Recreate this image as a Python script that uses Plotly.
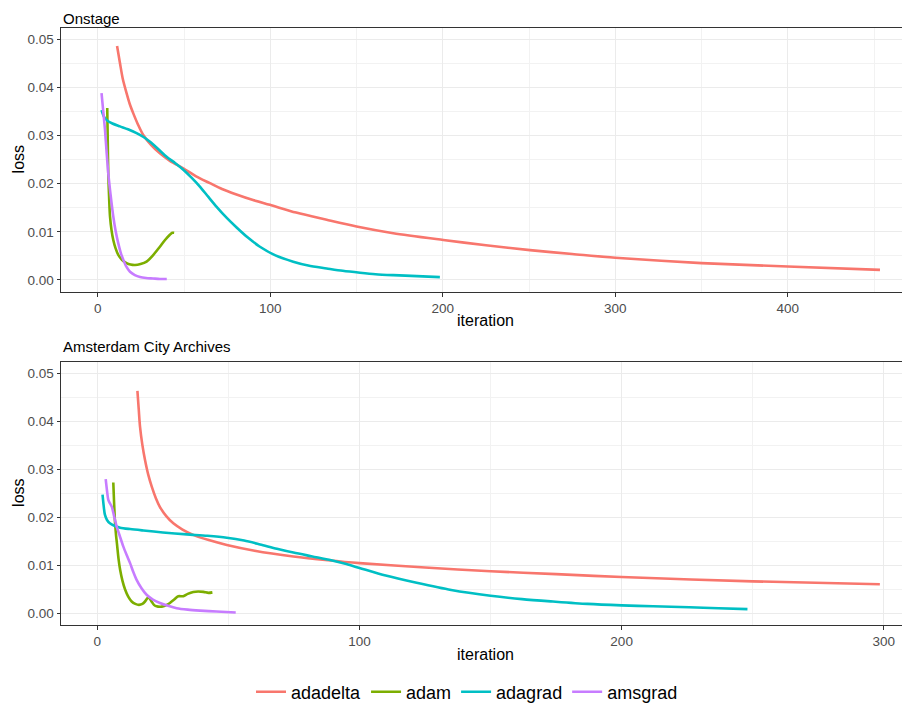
import plotly.graph_objects as go

# ---------------- data ----------------
panel_titles = ["Onstage", "Amsterdam City Archives"]
optimizers = ["adadelta", "adam", "adagrad", "amsgrad"]
colors = {"adadelta": "#F8766D", "adam": "#7CAE00", "adagrad": "#00BFC4", "amsgrad": "#C77CFF"}

# Onstage
on_adadelta_x = [11.2, 12.9, 14.5, 16.7, 18.5, 20.6, 23.3, 26.4, 31, 36, 42, 49.6, 57, 65, 72, 80, 90, 99.8, 115, 132.7, 150, 171.3, 200.3, 225, 250.5, 275, 300, 350, 400, 453.4]
on_adadelta_y = [0.0486, 0.0450, 0.0418, 0.0388, 0.0366, 0.0346, 0.0323, 0.0301, 0.0280, 0.0263, 0.0247, 0.0232, 0.0215, 0.0201, 0.0189, 0.0178, 0.0166, 0.0156, 0.0140, 0.0125, 0.0111, 0.0097, 0.0083, 0.0072, 0.0062, 0.0054, 0.0046, 0.0035, 0.0028, 0.0021]

on_adam_x = [5.5, 5.8, 6.1, 6.6, 7.1, 8.0, 9.0, 10.3, 11.9, 14.0, 16.7, 19.0, 21.6, 24.8, 28.3, 32.0, 36.0, 39.0, 41.8, 43.2, 44.3]
on_adam_y = [0.0357, 0.0290, 0.0222, 0.0170, 0.0132, 0.0103, 0.0083, 0.0066, 0.0052, 0.0042, 0.0035, 0.0032, 0.0031, 0.0033, 0.0038, 0.0051, 0.0069, 0.0083, 0.0094, 0.0098, 0.0098]

on_adagrad_x = [2.2, 3.5, 5.2, 8.5, 12.9, 17.5, 22.5, 26.5, 30.3, 35, 39.9, 44.8, 49.6, 54.5, 59.2, 64, 68.9, 74.5, 80.5, 87, 94, 103, 113.3, 122, 132.7, 142, 152, 161, 171.3, 185, 198.3]
on_adagrad_y = [0.0353, 0.0340, 0.0332, 0.0325, 0.0319, 0.0313, 0.0305, 0.0297, 0.0287, 0.0272, 0.0256, 0.0243, 0.0229, 0.0212, 0.0194, 0.0173, 0.0152, 0.0130, 0.0109, 0.0088, 0.0069, 0.0051, 0.0038, 0.0030, 0.0024, 0.0019, 0.0015, 0.0012, 0.0010, 0.0008, 0.0006]

on_amsgrad_x = [2.2, 3.2, 4.2, 5.1, 6.1, 7.5, 9.0, 10.4, 11.9, 13.3, 14.8, 16.5, 18.7, 21.5, 24.5, 28.0, 32.0, 36.0, 40.0]
on_amsgrad_y = [0.0388, 0.0350, 0.0312, 0.0267, 0.0222, 0.0175, 0.0132, 0.0101, 0.0076, 0.0057, 0.0042, 0.0028, 0.0017, 0.0010, 0.0006, 0.0004, 0.0003, 0.0002, 0.0002]

# Amsterdam City Archives
am_adadelta_x = [15.3, 15.8, 16.3, 17.2, 18.2, 19.4, 20.8, 22.3, 23.9, 26.3, 29.0, 32.5, 36.6, 42.5, 49.4, 60, 74.8, 88, 100.0, 125, 150, 175, 200, 250, 298.5]
am_adadelta_y = [0.0463, 0.0425, 0.0388, 0.0350, 0.0319, 0.0289, 0.0263, 0.0240, 0.0221, 0.0202, 0.0187, 0.0174, 0.0163, 0.0152, 0.0142, 0.0130, 0.0118, 0.0110, 0.0104, 0.0095, 0.0087, 0.0081, 0.0075, 0.0066, 0.0060]

am_adam_x = [6.1, 6.4, 6.7, 7.1, 7.6, 8.1, 8.7, 9.6, 10.6, 11.8, 13.1, 14.5, 15.9, 17.2, 18.2, 19.5, 20.7, 21.6, 22.6, 24.0, 25.2, 26.5, 27.7, 29.3, 30.9, 32.8, 34.5, 36.6, 38.5, 40.5, 42.4, 43.9]
am_adam_y = [0.0272, 0.0230, 0.0194, 0.0165, 0.0139, 0.0113, 0.0090, 0.0067, 0.0049, 0.0034, 0.0024, 0.0019, 0.0017, 0.0019, 0.0024, 0.0033, 0.0024, 0.0017, 0.0014, 0.0013, 0.0014, 0.0017, 0.0021, 0.0028, 0.0035, 0.0035, 0.0040, 0.0044, 0.0045, 0.0044, 0.0042, 0.0043]

am_adagrad_x = [2.0, 2.4, 2.9, 3.7, 4.8, 6.5, 8.7, 12.5, 17.6, 25, 34.1, 42, 49.4, 56, 62.1, 68.5, 74.8, 82, 89.2, 95, 100, 110, 121.8, 135, 150, 162, 173.8, 187, 200, 212, 225.8, 237, 248]
am_adagrad_y = [0.0247, 0.0225, 0.0205, 0.0194, 0.0187, 0.0182, 0.0178, 0.0175, 0.0172, 0.0168, 0.0164, 0.0161, 0.0157, 0.0151, 0.0143, 0.0134, 0.0126, 0.0118, 0.0110, 0.0102, 0.0094, 0.0078, 0.0063, 0.0048, 0.0036, 0.0029, 0.0024, 0.0019, 0.0016, 0.0014, 0.0012, 0.0010, 0.0008]

am_amsgrad_x = [3.2, 3.7, 4.2, 4.8, 5.5, 6.4, 7.4, 8.6, 9.9, 11.2, 12.5, 13.7, 15.0, 16.8, 18.8, 21.2, 23.9, 27.0, 30.3, 34.5, 39.2, 45.5, 52.8]
am_amsgrad_y = [0.0279, 0.0255, 0.0236, 0.0229, 0.0222, 0.0202, 0.0180, 0.0160, 0.0139, 0.0121, 0.0104, 0.0086, 0.0069, 0.0052, 0.0038, 0.0028, 0.0021, 0.0015, 0.0010, 0.0007, 0.0005, 0.0003, 0.0001]

x_ticks_top = [0, 100, 200, 300, 400]
x_ticks_bottom = [0, 100, 200, 300]
y_ticks = [0.00, 0.01, 0.02, 0.03, 0.04, 0.05]

panels = [
    {"adadelta": (on_adadelta_x, on_adadelta_y), "adam": (on_adam_x, on_adam_y),
     "adagrad": (on_adagrad_x, on_adagrad_y), "amsgrad": (on_amsgrad_x, on_amsgrad_y)},
    {"adadelta": (am_adadelta_x, am_adadelta_y), "adam": (am_adam_x, am_adam_y),
     "adagrad": (am_adagrad_x, am_adagrad_y), "amsgrad": (am_amsgrad_x, am_amsgrad_y)},
]

# ---------------- figure ----------------
# the page body has an 8px margin, so the figure is drawn 8px in from the window corner
OFF = 8
W, H = 910 - OFF, 704 - OFF
FONT = "Liberation Sans, Arial, Helvetica, sans-serif"


def px_x(v):
    return (v - OFF) / W


def px_y(v):
    return (H - (v - OFF)) / H


fig = go.Figure()

for i, pdata in enumerate(panels):
    xa = "x" if i == 0 else "x2"
    ya = "y" if i == 0 else "y2"
    for name in optimizers:
        xs, ys = pdata[name]
        fig.add_trace(go.Scatter(
            x=xs, y=ys, mode="lines", name=name, legendgroup=name,
            showlegend=(i == 0), xaxis=xa, yaxis=ya,
            line=dict(color=colors[name], width=2.6, shape="spline", smoothing=0.8),
        ))

x_dom = [px_x(61), 1.0]
top_dom = [px_y(292), px_y(27.7)]
bot_dom = [px_y(625), px_y(361.7)]

axis_common = dict(
    showline=True, linecolor="#333333", linewidth=1, automargin=False,
    ticks="outside", ticklen=3.5, tickcolor="#333333", tickwidth=1,
    tickfont=dict(family=FONT, size=13.5, color="#4D4D4D"),
    showgrid=True, gridcolor="#EBEBEB", gridwidth=1.1, zeroline=False,
)
minor_x = dict(dtick=50, tick0=0, showgrid=True, gridcolor="#F2F2F2", gridwidth=0.6, ticks="")
minor_y = dict(dtick=0.005, tick0=0, showgrid=True, gridcolor="#F2F2F2", gridwidth=0.6, ticks="")

fig.update_layout(
    width=W, height=H,
    margin=dict(l=0, r=0, t=0, b=0, autoexpand=False),
    paper_bgcolor="white", plot_bgcolor="white",
    font=dict(family=FONT),
    xaxis=dict(domain=x_dom, anchor="y", range=[-21.3, 470.8], tickvals=x_ticks_top,
               mirror=True, minor=minor_x, **axis_common),
    yaxis=dict(domain=top_dom, anchor="x", range=[-0.0025, 0.0524], tickvals=y_ticks, tickformat=".2f",
               minor=minor_y, **axis_common),
    xaxis2=dict(domain=x_dom, anchor="y2", range=[-13.85, 310.0], tickvals=x_ticks_bottom,
                mirror=True, minor=minor_x, **axis_common),
    yaxis2=dict(domain=bot_dom, anchor="x2", range=[-0.0025, 0.0524], tickvals=y_ticks, tickformat=".2f",
                minor=minor_y, **axis_common),
    legend=dict(orientation="h", x=px_x(467), xanchor="center", y=px_y(692), yanchor="middle",
                font=dict(family=FONT, size=18, color="black"), bgcolor="rgba(0,0,0,0)",
                itemwidth=30, tracegroupgap=0),
)

ann = []
# panel titles (top one anchored at the top edge so its box stays inside the page)
ann.append(dict(text=panel_titles[0], x=px_x(61), y=1.0, xref="paper", yref="paper",
                xanchor="left", yanchor="top", showarrow=False,
                font=dict(family=FONT, size=15, color="black")))
ann.append(dict(text=panel_titles[1], x=px_x(61), y=px_y(347), xref="paper", yref="paper",
                xanchor="left", yanchor="middle", showarrow=False,
                font=dict(family=FONT, size=15, color="black")))
for yp in [320, 654]:
    ann.append(dict(text="iteration", x=px_x(485.5), y=px_y(yp), xref="paper", yref="paper",
                    xanchor="center", yanchor="middle", showarrow=False,
                    font=dict(family=FONT, size=16, color="black")))
for yp in [159.9, 493.4]:
    ann.append(dict(text="loss", x=0.0, y=px_y(yp), xref="paper", yref="paper",
                    xanchor="left", yanchor="middle", showarrow=False, textangle=-90,
                    font=dict(family=FONT, size=16, color="black")))
fig.update_layout(annotations=ann)

fig.write_html("out.html")
